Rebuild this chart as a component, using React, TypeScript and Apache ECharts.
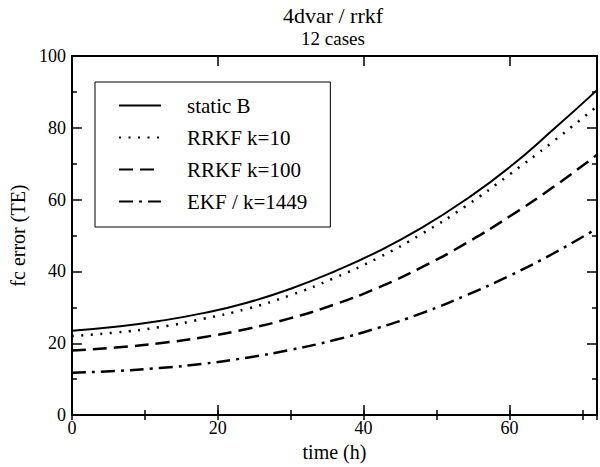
import React, { useEffect, useRef } from "react";
import * as echarts from "echarts";

const times = [0, 6, 12, 18, 24, 30, 36, 42, 48, 54, 60, 66, 72];
const staticB = [23.5, 24.6, 26.2, 28.4, 31.3, 35.2, 40, 45.6, 52.2, 60, 69, 79.5, 90.5];
const rrkf10 = [22, 23, 24.5, 26.8, 29.6, 33.4, 38.2, 43.8, 50.5, 58.2, 67, 76.2, 86];
const rrkf100 = [18, 18.8, 20, 21.7, 24, 27, 30.8, 35.5, 41.2, 47.8, 55.3, 63.5, 72.5];
const ekf = [11.8, 12.3, 13.1, 14.3, 16, 18.2, 20.9, 24.3, 28.4, 33.3, 38.8, 45, 52];
const seriesNames = ["static B", "RRKF k=10", "RRKF k=100", "EKF / k=1449"];

const FONT = "'Liberation Serif', 'Times New Roman', serif";

export default function App() {
  const ref = useRef<HTMLDivElement>(null);
  useEffect(() => {
    document.body.style.margin = "0";
    if (!ref.current) return;
    const chart = echarts.init(ref.current, null, { renderer: "svg" });
    const pair = (vals: number[]) => times.map((t, i) => [t, vals[i]]);
    const lineTypes: any[] = ["solid", [2, 7.5], [14, 7], [14, 6, 3, 6]];
    const datasets = [staticB, rrkf10, rrkf100, ekf];
    const axisCommon = {
      axisLine: { show: true, onZero: false, lineStyle: { color: "#000", width: 2 } },
      splitLine: { show: false },
    };
    const xMajor = (pos: string, labels: boolean) => ({
      type: "value",
      position: pos,
      min: 0,
      max: 72,
      interval: 20,
      ...axisCommon,
      axisTick: { show: true, inside: true, length: 10, lineStyle: { color: "#000", width: 1.5 } },
      axisLabel: {
        show: labels,
        showMaxLabel: false,
        color: "#000",
        fontFamily: FONT,
        fontSize: 18,
        margin: 4,
      },
      name: labels ? "time (h)" : "",
      nameLocation: "middle",
      nameGap: 21,
      nameTextStyle: { color: "#000", fontFamily: FONT, fontSize: 20 },
    });
    const xMinor = (pos: string) => ({
      type: "value",
      position: pos,
      min: 0,
      max: 72,
      interval: 10,
      axisLine: { show: false },
      splitLine: { show: false },
      axisTick: { show: true, inside: true, length: 5, lineStyle: { color: "#000", width: 1.5 } },
      axisLabel: { show: false },
    });
    const yAxis = (pos: string, labels: boolean) => ({
      type: "value",
      position: pos,
      min: 0,
      max: 100,
      interval: 20,
      ...axisCommon,
      axisTick: { show: true, inside: true, length: 10, lineStyle: { color: "#000", width: 1.5 } },
      minorTick: { show: true, splitNumber: 2, length: 5, lineStyle: { color: "#000", width: 1.5 } },
      axisLabel: {
        show: labels,
        color: "#000",
        fontFamily: FONT,
        fontSize: 18,
        margin: 6,
      },
      name: labels ? "fc error (TE)" : "",
      nameLocation: "middle",
      nameGap: 36,
      nameTextStyle: { color: "#000", fontFamily: FONT, fontSize: 20 },
    });
    chart.setOption({
      animation: false,
      backgroundColor: "#fff",
      title: [
        {
          text: "4dvar / rrkf",
          left: 333,
          top: 4,
          padding: 0,
          textAlign: "center",
          textStyle: { color: "#000", fontFamily: FONT, fontSize: 22, fontWeight: "normal" },
        },
        {
          text: "12 cases",
          left: 333,
          top: 29,
          padding: 0,
          textAlign: "center",
          textStyle: { color: "#000", fontFamily: FONT, fontSize: 19, fontWeight: "normal" },
        },
      ],
      grid: { left: 69, right: 3, top: 56, bottom: 41, containLabel: false },
      legend: {
        orient: "vertical",
        left: 95,
        top: 82,
        data: seriesNames,
        itemWidth: 42,
        itemHeight: 20,
        itemGap: 11,
        padding: [13, 23, 15, 23],
        borderColor: "#000",
        borderWidth: 1,
        itemStyle: { opacity: 0 },
        textStyle: { color: "#000", fontFamily: FONT, fontSize: 21, padding: [0, 0, 0, 21] },
      },
      xAxis: [xMajor("bottom", true), xMajor("top", false), xMinor("bottom"), xMinor("top")],
      yAxis: [yAxis("left", true), yAxis("right", false)],
      series: datasets.map((vals, i) => ({
        name: seriesNames[i],
        type: "line",
        xAxisIndex: 0,
        yAxisIndex: 0,
        data: pair(vals),
        smooth: true,
        symbol: "none",
        lineStyle: { color: "#000", width: i === 0 ? 2 : 2.5, type: lineTypes[i], cap: "butt" },
        itemStyle: { color: "#000" },
      })),
    });
    return () => chart.dispose();
  }, []);
  return <div ref={ref} style={{ width: 600, height: 467 }} />;
}
